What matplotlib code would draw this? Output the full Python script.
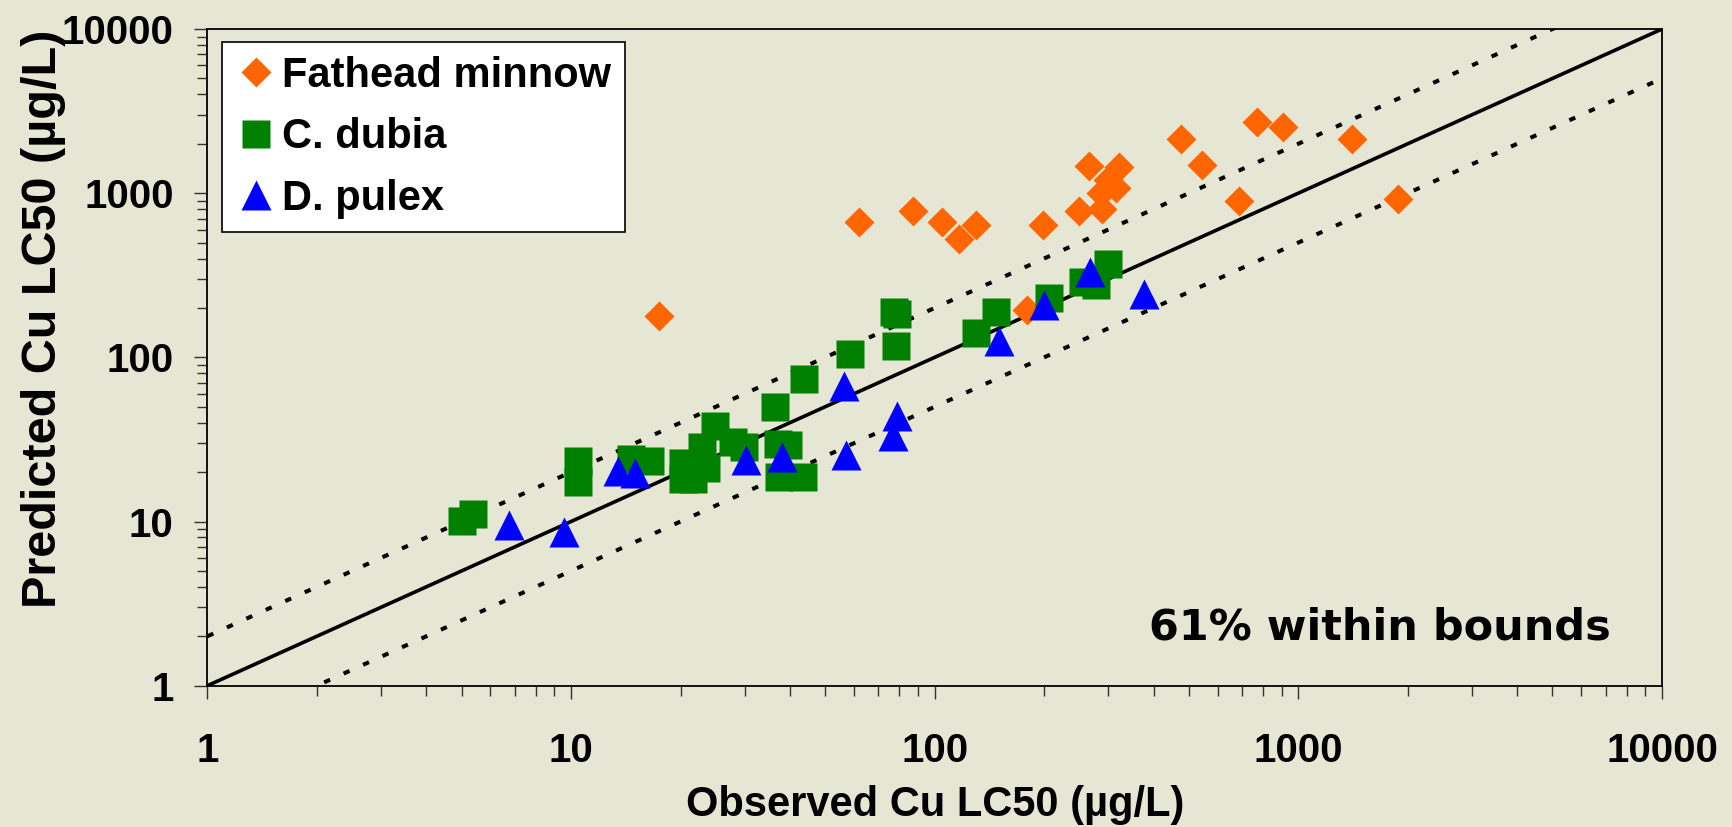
import matplotlib
matplotlib.use("Agg")
import matplotlib.pyplot as plt
import numpy as np

# ---------------- data ----------------
fathead_obs = [17.5, 62, 87, 105, 117, 130, 179, 198, 250, 265, 288, 287, 300, 315, 322,
               476, 543, 687, 768, 910, 1403, 1875]
fathead_pred = [178, 670, 778, 670, 523, 640, 194, 640, 782, 1468, 797, 997, 1200, 1070, 1436,
                2135, 1476, 899, 2723, 2536, 2135, 920]

dubia_obs = [5.02, 5.36, 10.46, 10.46, 14.6, 16.5, 20.3, 20.3, 21.7, 22.9, 23.5, 24.9, 27.9, 29.8,
             37.1, 39.6, 37.2, 43.5, 36.3, 43.8, 58.6, 77.4, 79.0, 78.2, 130, 147, 206, 256, 278, 300]
dubia_pred = [10.05, 11.1, 23.3, 17.4, 23.9, 23.3, 22.7, 18.2, 18.2, 28.3, 21.1, 38.0, 30.4, 28.3,
              29.8, 29.1, 18.7, 18.7, 49.8, 74.0, 105, 189, 184, 118, 141, 189, 231, 288, 274, 368]

pulex_obs = [6.74, 9.58, 13.5, 15.0, 30.2, 38.1, 56.3, 56.9, 76.9, 78.6, 150, 200, 267, 377]
pulex_pred = [9.48, 8.61, 20.4, 19.8, 23.6, 24.8, 66.6, 25.3, 33.2, 43.7, 126, 207, 330, 244]

series_labels = ["Fathead minnow", "C. dubia", "D. pulex"]
line_x = [1, 10000]
bound_factors = [2.0, 0.5]
tick_vals = [1, 10, 100, 1000, 10000]
tick_labels = ["1", "10", "100", "1000", "10000"]
annotation = "61% within bounds"
xlabel = "Observed Cu LC50 (\u00b5g/L)"
ylabel = "Predicted Cu LC50 (\u00b5g/L)"

# ---------------- style ----------------
bg = "#E5E6D3"
lab_font = ["Liberation Sans", "DejaVu Sans"]

fig = plt.figure(figsize=(17.33, 8.27), dpi=100, facecolor=bg)
ax = fig.add_axes([0.1197, 0.1709, 0.9590 - 0.1197, 0.9649 - 0.1709])
ax.set_facecolor(bg)
ax.set_xscale("log")
ax.set_yscale("log")
ax.set_xlim(1, 10000)
ax.set_ylim(1, 10000)

lx = np.array(line_x, dtype=float)
ax.plot(lx, lx, color="black", lw=2.6, zorder=2, solid_capstyle="butt")
for f in bound_factors:
    ax.plot(lx, lx * f, color="black", lw=2.9, linestyle=(0, (1.6, 3.7)),
            dash_capstyle="butt", zorder=2)

ax.plot(fathead_obs, fathead_pred, linestyle="none", marker="D", ms=15,
        color="#FF6600", mec="none", zorder=3, label=series_labels[0], clip_on=False)
ax.plot(dubia_obs, dubia_pred, linestyle="none", marker="s", ms=20,
        color="#008000", mec="none", zorder=4, label=series_labels[1], clip_on=False)
ax.plot(pulex_obs, pulex_pred, linestyle="none", marker="^", ms=21,
        color="#0000FF", mec="none", zorder=5, label=series_labels[2], clip_on=False)

# ticks
ax.set_xticks(tick_vals)
ax.set_xticklabels(tick_labels)
ax.set_yticks(tick_vals)
ax.set_yticklabels(tick_labels)
ax.xaxis.set_minor_locator(matplotlib.ticker.LogLocator(base=10, subs=np.arange(2, 10)))
ax.yaxis.set_minor_locator(matplotlib.ticker.LogLocator(base=10, subs=np.arange(2, 10)))
ax.xaxis.set_minor_formatter(matplotlib.ticker.NullFormatter())
ax.yaxis.set_minor_formatter(matplotlib.ticker.NullFormatter())
ax.tick_params(which="major", direction="out", length=9.4, width=1.0, color="#333333")
ax.tick_params(which="minor", direction="out", length=7, width=1.0, color="#333333")
ax.tick_params(axis="x", which="major", pad=24)
ax.tick_params(axis="y", which="major", pad=15)
for lab in ax.get_xticklabels() + ax.get_yticklabels():
    lab.set_fontfamily(lab_font)
    lab.set_fontweight("bold")
    lab.set_fontsize(29)

for s in ax.spines.values():
    s.set_linewidth(1.3)
    s.set_color("black")

ax.set_xlabel(xlabel, fontfamily=lab_font, fontweight="bold", fontsize=30)
ax.set_ylabel(ylabel, fontfamily=lab_font, fontweight="bold", fontsize=35)
ax.xaxis.set_label_coords(0.5, -0.151)
ax.yaxis.set_label_coords(-0.097, 0.558)

ax.text(0.965, 0.089, annotation, transform=ax.transAxes, ha="right", va="center",
        fontfamily="DejaVu Sans", fontweight="bold", fontsize=31, zorder=6)

leg = ax.legend(loc="upper left", bbox_to_anchor=(0.0102, 0.9797), borderaxespad=0,
                frameon=True, fancybox=False, framealpha=1, edgecolor="black",
                facecolor="white", handlelength=1.0, handletextpad=0.12,
                labelspacing=0.52, borderpad=0.32, numpoints=1,
                prop={"family": lab_font, "weight": "bold", "size": 30})
leg.get_frame().set_linewidth(1.2)
leg.set_zorder(10)

fig.savefig("out.png", dpi=100, facecolor=bg)
